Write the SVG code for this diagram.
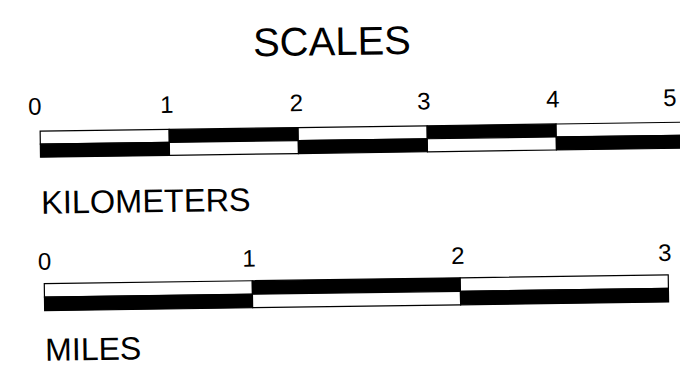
<svg xmlns="http://www.w3.org/2000/svg" width="680" height="380" viewBox="0 0 680 380">
<style>
  text { font-family: "Liberation Sans", Arial, sans-serif; fill: #000; }
  .num { font-size: 24px; text-anchor: middle; }
  .w { fill: #fff; stroke: #000; stroke-width: 1.2; }
  .b { fill: #000; stroke: #000; stroke-width: 1.2; }
</style>
<rect x="0" y="0" width="680" height="380" fill="#fff"/>
<g transform="rotate(-0.8 340 190)">
  <text id="title" x="334" y="55" font-size="40" text-anchor="middle">SCALES</text>
  <g id="km-scale">
    <rect class="w" x="41" y="127" width="129" height="13"/>
    <rect class="b" x="41" y="140" width="129" height="13"/>
    <rect class="b" x="170" y="127" width="129" height="13"/>
    <rect class="w" x="170" y="140" width="129" height="13"/>
    <rect class="w" x="299" y="127" width="129" height="13"/>
    <rect class="b" x="299" y="140" width="129" height="13"/>
    <rect class="b" x="428" y="127" width="129" height="13"/>
    <rect class="w" x="428" y="140" width="129" height="13"/>
    <rect class="w" x="557" y="127" width="129" height="13"/>
    <rect class="b" x="557" y="140" width="129" height="13"/>
    <text class="num" x="36" y="110.5">0</text>
    <text class="num" x="168" y="110.5">1</text>
    <text class="num" x="297.5" y="110.5">2</text>
    <text class="num" x="425" y="110.5">3</text>
    <text class="num" x="554" y="110.5">4</text>
    <text class="num" x="671" y="110.5">5</text>
    <text x="41" y="209.5" font-size="32.5">KILOMETERS</text>
  </g>
  <g id="mile-scale">
    <rect class="w" x="43" y="279.5" width="208" height="13.5"/>
    <rect class="b" x="43" y="293" width="208" height="13.5"/>
    <rect class="b" x="251" y="279.5" width="208" height="13.5"/>
    <rect class="w" x="251" y="293" width="208" height="13.5"/>
    <rect class="w" x="459" y="279.5" width="208" height="13.5"/>
    <rect class="b" x="459" y="293" width="208" height="13.5"/>
    <text class="num" x="43.5" y="265.5">0</text>
    <text class="num" x="248" y="265.5">1</text>
    <text class="num" x="457" y="265.5">2</text>
    <text class="num" x="664" y="265.5">3</text>
    <text x="43" y="356.5" font-size="32">MILES</text>
  </g>
</g>
</svg>
